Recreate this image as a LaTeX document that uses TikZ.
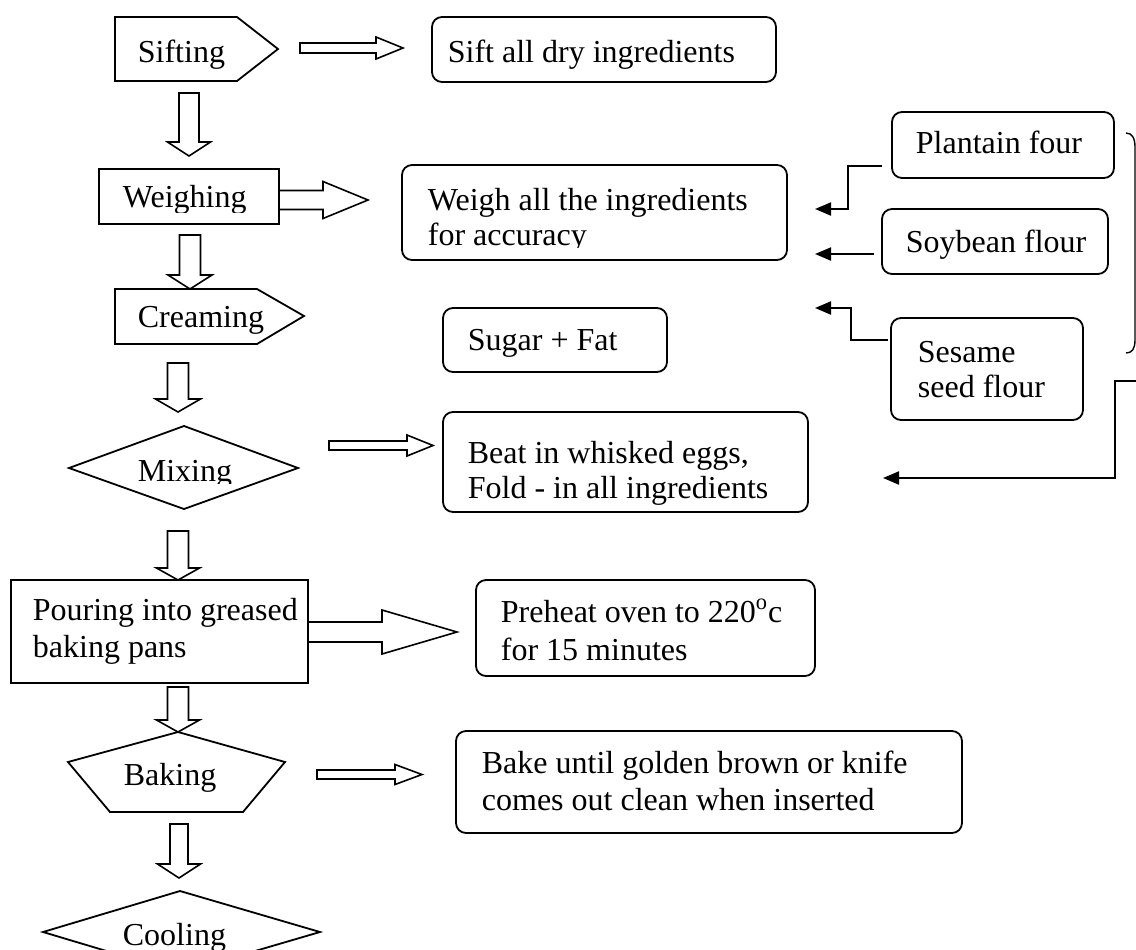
\documentclass[tikz,border=0pt]{standalone}
\usepackage{fontspec}
\setmainfont{Liberation Serif}
\usetikzlibrary{arrows.meta,fit}
\newcommand\rarw[6]{\draw[blk] (#1,#4-#5) -- (#2,#4-#5) -- (#2,#4-#6) -- (#3,#4) -- (#2,#4+#6) -- (#2,#4+#5) -- (#1,#4+#5) -- cycle;}
\newcommand\darw[6]{\draw[blk] (#1-#5,#2) -- (#1+#5,#2) -- (#1+#5,#3) -- (#1+#6,#3) -- (#1,#4) -- (#1-#6,#3) -- (#1-#5,#3) -- cycle;}
\begin{document}
\begin{tikzpicture}[x=0.5pt,y=-0.5pt, line width=0.9pt,
 rbox/.style={draw, rounded corners=5pt, inner sep=0pt},
 pbox/.style={draw, inner sep=0pt},
 txt/.style={anchor=base west, inner sep=0pt, font=\fontsize{16}{18}\selectfont},
 blk/.style={draw, line width=0.8pt, line join=miter},
 feed/.style={draw, line width=1pt, -{Triangle[length=8pt,width=6.5pt]}},
]
\clip (0,0) rectangle (1136,949);
\fill[white] (0,0) rectangle (1136,949);

% process shapes
\draw (115,17) -- (237,17) -- (278,49) -- (237,81) -- (115,81) -- cycle;
\node[txt] (tsifting) at (137,62) {Sifting};

\node[pbox, fit={(99,169) (279,224)}] (weighing) {};
\begin{scope}\clip (100,150) rectangle (278,212);
\node[txt] (tweighing) at (122,207) {Weighing};
\end{scope}

\draw (115,289) -- (257,289) -- (304,316) -- (257,344) -- (115,344) -- cycle;
\node[txt] (tcreaming) at (137,327) {Creaming};

\draw (184,426) -- (298,468) -- (184,509) -- (69,468) -- cycle;
\begin{scope}\clip (100,440) rectangle (280,483);
\node[txt] (tmixing) at (137,481) {Mixing};
\end{scope}

\node[pbox, fit={(11,580) (308,683)}] (pouring) {};
\node[txt] (tpour1) at (32,620) {Pouring into greased};
\node[txt] (tpour2) at (32,657) {baking pans};

\draw (178,732) -- (285,762) -- (243,812) -- (110,812) -- (68,762) -- cycle;
\node[txt] (tbaking) at (123,785) {Baking};

\draw (180,891) -- (320,932) -- (180,973) -- (43,932) -- cycle;
\node[txt] (tcooling) at (122,945) {Cooling};

% note boxes
\node[rbox, fit={(432,17) (776,82)}] (sift) {};
\node[txt] (tsift) at (447,62) {Sift all dry ingredients};

\node[rbox, fit={(402,165) (787,260)}] (weigh) {};
\node[txt] (tweigh1) at (427,210) {Weigh all the ingredients};
\begin{scope}\clip (410,220) rectangle (780,247);
\node[txt] (tweigh2) at (427,245) {for accuracy};
\end{scope}

\node[rbox, fit={(443,308) (667,372)}] (sugar) {};
\node[txt] (tsugar) at (467,350) {Sugar + Fat};

\node[rbox, fit={(892,112) (1114,178)}] (plantain) {};
\node[txt] (tplantain) at (915,153) {Plantain four};

\node[rbox, fit={(882,209) (1108,274)}] (soybean) {};
\node[txt] (tsoybean) at (905,252) {Soybean flour};

\node[rbox, fit={(891,318) (1083,420)}] (sesame) {};
\node[txt] (tsesame1) at (917,362) {Sesame};
\node[txt] (tsesame2) at (917,397) {seed flour};

\node[rbox, fit={(443,412) (808,512)}] (beat) {};
\node[txt] (tbeat1) at (467,463) {Beat in whisked eggs,};
\node[txt] (tbeat2) at (467,498) {Fold - in all ingredients};

\node[rbox, fit={(476,580) (815,676)}] (preheat) {};
\node[txt] (tpre1) at (500,622) {Preheat oven to 220\textsuperscript{o}c};
\begin{scope}\clip (480,630) rectangle (810,662);
\node[txt] (tpre2) at (500,660) {for 15 minutes};
\end{scope}

\node[rbox, fit={(456,731) (962,833)}] (bake) {};
\node[txt] (tbake1) at (481,773) {Bake until golden brown or knife};
\node[txt] (tbake2) at (481,810) {comes out clean when inserted};

% block arrows
\darw{189}{93}{142}{156}{10}{21.5}
\darw{190}{235}{275}{289}{10.5}{22}
\darw{178}{363}{399}{412}{10.5}{22.5}
\darw{178}{531}{568}{580}{10.5}{21.5}
\darw{178}{687}{720}{732}{10.5}{21.5}
\darw{179}{824}{864}{878}{9}{21.5}

\rarw{300}{376}{403}{48}{5}{11}
\rarw{279}{323}{368}{200}{9.5}{18.5}
\rarw{329}{407}{433}{445.5}{4.5}{10.5}
\rarw{308}{382}{457}{632}{10}{22}
\rarw{317}{395}{422}{774.5}{4.5}{10}

% flour feed arrows
\coordinate (pa) at (882,166); \coordinate (pt) at (815,209);
\coordinate (sa) at (874,254); \coordinate (st) at (815,254);
\coordinate (ea) at (888,340); \coordinate (et) at (815,308);
\coordinate (la) at (1140,381); \coordinate (lt) at (883,478);
\draw[feed] (pa) -- ++(-34,0) |- (pt);
\draw[feed] (sa) -- (st);
\draw[feed] (ea) -- ++(-37,0) |- (et);
\draw[feed] (la) -- ++(-25,0) |- (lt);

% brace
\draw[line width=0.7pt] (1126,133) .. controls (1132,133) and (1135,138) .. (1135,147) -- (1135,340) .. controls (1135,349) and (1132,353) .. (1126,353);
\end{tikzpicture}
\end{document}
